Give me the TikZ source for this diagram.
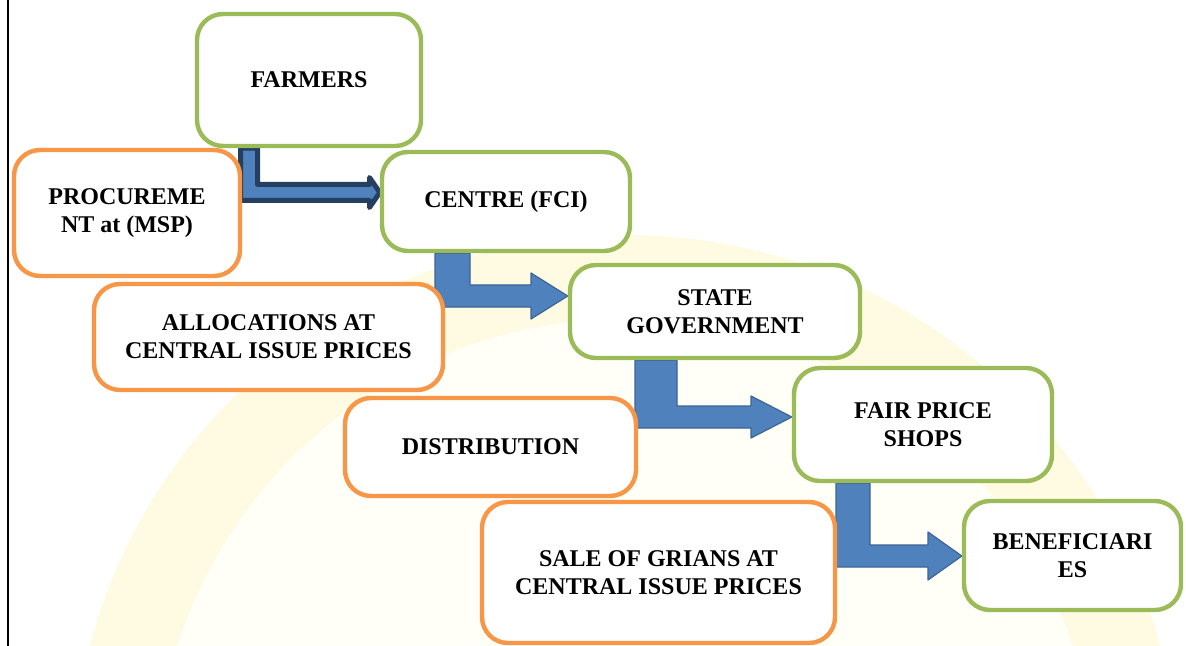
\documentclass[tikz,border=0pt]{standalone}
\usepackage{fontspec}
\setmainfont{Liberation Serif}
\usetikzlibrary{backgrounds}

\definecolor{leafgreen}{RGB}{155,187,89}
\definecolor{peach}{RGB}{247,150,70}
\definecolor{flowblue}{RGB}{79,129,189}
\definecolor{flowedge}{RGB}{60,100,150}
\definecolor{navy}{RGB}{36,63,96}
\definecolor{wmring}{RGB}{255,250,226}
\definecolor{wmfill}{RGB}{255,254,247}

\begin{document}
\begin{tikzpicture}[x=0.5pt,y=-0.5pt,
    box/.style={rounded corners=13pt,line width=2.2pt,fill=white,inner sep=0pt,
        align=center,font=\bfseries\fontsize{12}{14}\selectfont},
    greenbox/.style={box,draw=leafgreen},
    orangebox/.style={box,draw=peach},
    flow/.style={fill=flowblue,draw=flowedge,line width=0.6pt,line join=round},
    flowdark/.style={fill=flowblue,draw=navy,line width=2.5pt,line join=round}]
        \useasboundingbox (0,0) rectangle (1186,646);

        \node[greenbox,minimum width=112pt,minimum height=66pt] (farmers) at (309,80) {FARMERS};
        \node[orangebox,minimum width=113pt,minimum height=63pt] (procure) at (127,213) {PROCUREME\\NT at (MSP)};
        \node[greenbox,minimum width=124pt,minimum height=49.5pt] (centre) at (506,201.5) {CENTRE (FCI)};
        \node[orangebox,minimum width=174.5pt,minimum height=53pt] (alloc) at (268.5,337) {ALLOCATIONS AT\\CENTRAL ISSUE PRICES};
        \node[greenbox,minimum width=145pt,minimum height=46.5pt] (state) at (715,311.5) {STATE\\GOVERNMENT};
        \node[orangebox,minimum width=145.5pt,minimum height=49pt] (distrib) at (490.5,447) {DISTRIBUTION};
        \node[greenbox,minimum width=129pt,minimum height=56.5pt] (shops) at (923,424.5) {FAIR PRICE\\SHOPS};
        \node[orangebox,minimum width=176.5pt,minimum height=70.5pt] (sale) at (658.5,572.5) {SALE OF GRIANS AT\\CENTRAL ISSUE PRICES};
        \node[greenbox,minimum width=108.5pt,minimum height=54.5pt] (benef) at (1072.5,555.5) {BENEFICIARI\\ES};

        \begin{pgfonlayer}{background}
            % faint seal behind the chart
            \begin{scope}
                \clip (0,0) rectangle (1186,646);
                \fill[wmfill] (625,789) circle (235pt);
                \draw[wmring,line width=42pt] (625,789) circle (256pt);
            \end{scope}
            \draw[line width=1pt] (8,0) -- (8,646);

            % bent arrows
            \draw[flowdark] (240.5,0 |- farmers.south) -- (257.5,0 |- farmers.south) -- (257.5,184.5)
                -- (369.5,184.5) -- (369.5,177.5) -- (centre.west |- 0,192.5) -- (369.5,207.5)
                -- (369.5,200.5) -- (240.5,200.5) -- cycle;
            \foreach \a/\b/\xl/\xr/\yt/\yb/\ym/\xh/\hh in {centre/state/435/470/285/307/296/531/23,
                    state/shops/635/677/406/428/417/751/21,
                    shops/benef/836/870/545/567/556/928/24}{
                \draw[flow] (\xl,0 |- \a.south) -- (\xr,0 |- \a.south) -- (\xr,\yt) -- (\xh,\yt)
                    -- (\xh,\ym-\hh) -- (\b.west |- 0,\ym) -- (\xh,\ym+\hh) -- (\xh,\yb)
                    -- (\xl,\yb) -- cycle;
            }
        \end{pgfonlayer}
\end{tikzpicture}
\end{document}
